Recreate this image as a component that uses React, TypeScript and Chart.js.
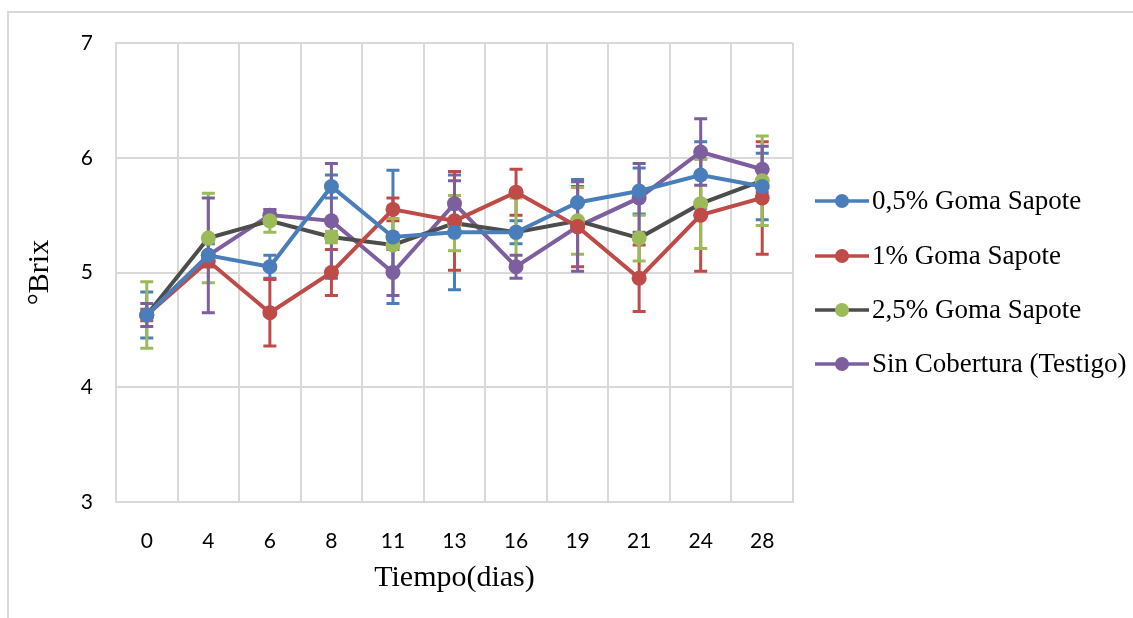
import React, { useEffect, useRef } from "react";
import { Chart, registerables } from "chart.js";

Chart.register(...registerables);

const categories = ["0", "4", "6", "8", "11", "13", "16", "19", "21", "24", "28"];

const seriesNames = [
  "0,5% Goma Sapote",
  "1% Goma Sapote",
  "2,5% Goma Sapote",
  "Sin Cobertura (Testigo)",
];

const goma05 = [4.63, 5.15, 5.05, 5.75, 5.31, 5.35, 5.35, 5.61, 5.71, 5.85, 5.75];
const goma05Err = [0.2, 0.1, 0.1, 0.1, 0.58, 0.5, 0.1, 0.2, 0.2, 0.29, 0.29];

const goma1 = [4.63, 5.1, 4.65, 5.0, 5.55, 5.45, 5.7, 5.4, 4.95, 5.5, 5.65];
const goma1Err = [0.05, 0.05, 0.29, 0.2, 0.1, 0.43, 0.2, 0.35, 0.29, 0.49, 0.49];

const goma25 = [4.63, 5.3, 5.45, 5.31, 5.24, 5.43, 5.35, 5.45, 5.3, 5.6, 5.8];
const goma25Err = [0.29, 0.39, 0.1, 0.05, 0.23, 0.24, 0.3, 0.29, 0.2, 0.39, 0.39];

const testigo = [4.63, 5.15, 5.5, 5.45, 5.0, 5.6, 5.05, 5.4, 5.65, 6.05, 5.9];
const testigoErr = [0.1, 0.5, 0.05, 0.5, 0.2, 0.2, 0.1, 0.39, 0.3, 0.29, 0.2];

const yTicks = [3, 4, 5, 6, 7];

const lineColors = ["#4A7EBB", "#BE4B48", "#4D4D4D", "#7D5FA0"];
const markerColors = ["#4A7EBB", "#BE4B48", "#9BBB59", "#7D5FA0"];

const values = [goma05, goma1, goma25, testigo];
const errors = [goma05Err, goma1Err, goma25Err, testigoErr];

const errorBarPlugin = {
  id: "errorBars",
  beforeDatasetsDraw(chart: any) {
    const ctx = chart.ctx;
    const xs = chart.scales.x;
    const ys = chart.scales.y;
    ctx.save();
    values.forEach((vals, i) => {
      ctx.strokeStyle = markerColors[i];
      ctx.lineWidth = 3;
      vals.forEach((v, j) => {
        const e = errors[i][j];
        const x = xs.getPixelForValue(j);
        const yT = ys.getPixelForValue(v + e);
        const yB = ys.getPixelForValue(v - e);
        ctx.beginPath();
        ctx.moveTo(x, yT);
        ctx.lineTo(x, yB);
        ctx.moveTo(x - 6.5, yT);
        ctx.lineTo(x + 6.5, yT);
        ctx.moveTo(x - 6.5, yB);
        ctx.lineTo(x + 6.5, yB);
        ctx.stroke();
      });
    });
    ctx.restore();
  },
};

const legendPlugin = {
  id: "customLegend",
  afterDraw(chart: any) {
    const ctx = chart.ctx;
    ctx.save();
    const rowY = [201, 256, 310, 364];
    seriesNames.forEach((name, i) => {
      const y = rowY[i];
      ctx.strokeStyle = lineColors[i];
      ctx.lineWidth = 3.5;
      ctx.beginPath();
      ctx.moveTo(815, y);
      ctx.lineTo(869, y);
      ctx.stroke();
      ctx.fillStyle = markerColors[i];
      ctx.beginPath();
      ctx.arc(842, y, 7, 0, Math.PI * 2);
      ctx.fill();
      ctx.fillStyle = "#000000";
      ctx.font = '27px "Liberation Serif", "Times New Roman", serif';
      ctx.textBaseline = "middle";
      ctx.textAlign = "left";
      ctx.fillText(name, 872, y + 1);
    });
    ctx.restore();
  },
};

const borderPlugin = {
  id: "outerBorder",
  beforeDraw(chart: any) {
    const ctx = chart.ctx;
    ctx.save();
    ctx.fillStyle = "#ffffff";
    ctx.fillRect(0, 0, chart.width, chart.height);
    ctx.strokeStyle = "#D9D9D9";
    ctx.lineWidth = 2;
    ctx.beginPath();
    ctx.moveTo(8, chart.height + 5);
    ctx.lineTo(8, 12);
    ctx.lineTo(chart.width + 5, 12);
    ctx.stroke();
    ctx.restore();
  },
};

export default function App() {
  const canvasRef = useRef<HTMLCanvasElement | null>(null);

  useEffect(() => {
    const canvas = canvasRef.current;
    if (!canvas) return;
    const chart = new Chart(canvas, {
      type: "line",
      data: {
        labels: categories,
        datasets: values.map((vals, i) => ({
          label: seriesNames[i],
          data: vals,
          borderColor: lineColors[i],
          backgroundColor: markerColors[i],
          pointBackgroundColor: markerColors[i],
          pointBorderColor: markerColors[i],
          pointRadius: 7.5,
          pointBorderWidth: 0,
          borderWidth: 4,
          tension: 0,
          fill: false,
        })),
      },
      options: {
        responsive: false,
        animation: false,
        devicePixelRatio: 1,
        layout: { padding: { left: 0, top: 43, right: 340, bottom: 0 } },
        plugins: {
          legend: { display: false },
          tooltip: { enabled: false },
          title: { display: false },
        },
        scales: {
          x: {
            type: "category",
            offset: true,
            grid: {
              offset: true,
              color: "#D9D9D9",
              lineWidth: 2,
              drawTicks: false,
            },
            border: { display: true, color: "#D9D9D9", width: 2 },
            ticks: {
              padding: 27,
              color: "#000000",
              font: { family: "Lato", size: 21 },
              maxRotation: 0,
            },
            title: {
              display: true,
              text: "Tiempo(dias)",
              color: "#000000",
              font: { family: '"Liberation Serif"', size: 30, lineHeight: 1 },
              padding: { top: 0, bottom: 25 },
            },
            afterFit: (scale: any) => {
              scale.height = 116;
            },
          },
          y: {
            min: 3,
            max: 7,
            afterBuildTicks: (scale: any) => {
              scale.ticks = yTicks.map((v) => ({ value: v }));
            },
            grid: { color: "#D9D9D9", lineWidth: 2, drawTicks: false },
            border: { display: true, color: "#D9D9D9", width: 2 },
            ticks: {
              padding: 23,
              color: "#000000",
              font: { family: "Lato", size: 21 },
            },
            title: {
              display: true,
              text: "°Brix",
              color: "#000000",
              font: { family: '"Liberation Serif"', size: 30, lineHeight: 1 },
              padding: { top: 25, bottom: 0 },
            },
            afterFit: (scale: any) => {
              scale.width = 116;
            },
          },
        },
      },
      plugins: [borderPlugin, errorBarPlugin, legendPlugin],
    } as any);
    return () => chart.destroy();
  }, []);

  return (
    <div style={{ position: "fixed", left: 0, top: 0, width: 1133, height: 618, background: "#fff" }}>
      <canvas ref={canvasRef} width={1133} height={618} style={{ width: 1133, height: 618, display: "block" }} />
    </div>
  );
}
